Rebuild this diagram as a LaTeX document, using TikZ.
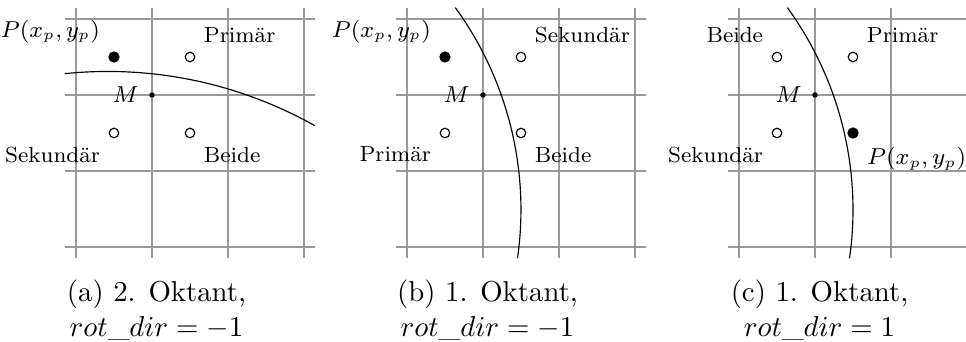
\documentclass[tikz,border=0pt]{standalone}
\begin{document}
\begin{tikzpicture}[scale=0.9275,
    gridline/.style={black!40,line width=0.4pt},
    pix/.style={draw,circle,inner sep=0pt,minimum size=3.3pt,line width=0.4pt,label distance=-2.6pt},
    setpix/.style={pix,fill=black,minimum size=3.5pt},
    mid/.style={fill,circle,inner sep=0pt,minimum size=1.9pt,label distance=1pt},
    every label/.style={font=\fontsize{7.6}{9}\selectfont},
    capt/.style={align=center,anchor=north,inner sep=0pt}]
  \useasboundingbox (-1,-1.237) rectangle (11.711,3.25);
  % (a) 2. Oktant
  \begin{scope}
    \foreach \i in {0,...,3} {
      \draw[gridline] (\i,-0.15)--(\i,3.15);
      \draw[gridline] (-0.15,\i)--(3.15,\i);
    }
    \draw ([shift={(95.9:5.55)}]0.42,-3.24) arc[start angle=95.9,end angle=60.65,radius=5.55];
    \node[setpix,label={above left:$P(x_p,y_p)$}] (pa) at (0.5,2.5) {};
    \node[pix,label=above right:Primär] (primA) at (1.5,2.5) {};
    \node[pix,label=below left:Sekundär] (sekA) at (0.5,1.5) {};
    \node[pix,label=below right:Beide] (beideA) at (1.5,1.5) {};
    \node[mid,label=left:$M$] (ma) at (1,2) {};
    \node[capt] (capA) at (1.06,-0.426) {(a) 2. Oktant,\\$rot\_dir = -1$};
  \end{scope}
  % (b) 1. Oktant
  \begin{scope}[xshift=4.355cm]
    \foreach \i in {0,...,3} {
      \draw[gridline] (\i,-0.15)--(\i,3.15);
      \draw[gridline] (-0.15,\i)--(3.15,\i);
    }
    \draw ([shift={(35.96:4.53)}]-3.03,0.49) arc[start angle=35.96,end angle=-8.12,radius=4.53];
    \node[setpix,label={above left:$P(x_p,y_p)$}] (pb) at (0.5,2.5) {};
    \node[pix,label=above right:Sekundär] (sekB) at (1.5,2.5) {};
    \node[pix,label=below left:Primär] (primB) at (0.5,1.5) {};
    \node[pix,label=below right:Beide] (beideB) at (1.5,1.5) {};
    \node[mid,label=left:$M$] (mb) at (1,2) {};
    \node[capt] (capB) at (1.06,-0.426) {(b) 1. Oktant,\\$rot\_dir = -1$};
  \end{scope}
  % (c) 1. Oktant, andere Richtung
  \begin{scope}[xshift=8.724cm]
    \foreach \i in {0,...,3} {
      \draw[gridline] (\i,-0.15)--(\i,3.15);
      \draw[gridline] (-0.15,\i)--(3.15,\i);
    }
    \draw ([shift={(35.96:4.53)}]-3.03,0.49) arc[start angle=35.96,end angle=-8.12,radius=4.53];
    \node[pix,label=above left:Beide] (beideC) at (0.5,2.5) {};
    \node[pix,label=above right:Primär] (primC) at (1.5,2.5) {};
    \node[pix,label=below left:Sekundär] (sekC) at (0.5,1.5) {};
    \node[setpix,label={below right:$P(x_p,y_p)$}] (pc) at (1.5,1.5) {};
    \node[mid,label=left:$M$] (mc) at (1,2) {};
    \node[capt] (capC) at (1.06,-0.426) {(c) 1. Oktant,\\$rot\_dir = 1$};
  \end{scope}
\end{tikzpicture}
\end{document}
